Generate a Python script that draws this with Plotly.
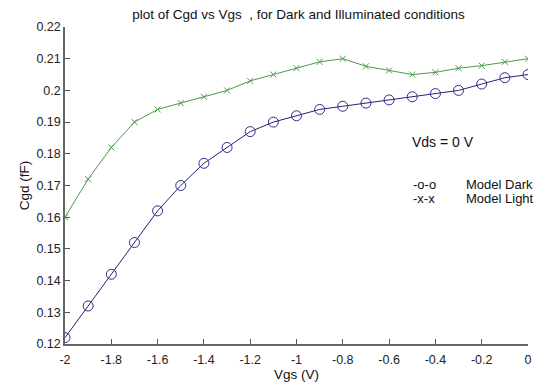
import plotly.graph_objects as go

vgs = [-2.0, -1.9, -1.8, -1.7, -1.6, -1.5, -1.4, -1.3, -1.2, -1.1, -1.0,
       -0.9, -0.8, -0.7, -0.6, -0.5, -0.4, -0.3, -0.2, -0.1, 0.0]
cgd_dark = [0.122, 0.132, 0.142, 0.152, 0.162, 0.170, 0.177, 0.182, 0.187, 0.190, 0.192,
            0.194, 0.195, 0.196, 0.197, 0.198, 0.199, 0.200, 0.202, 0.204, 0.205]
cgd_light = [0.160, 0.172, 0.182, 0.190, 0.194, 0.196, 0.198, 0.200, 0.203, 0.205, 0.207,
             0.209, 0.210, 0.2076, 0.2063, 0.205, 0.2057, 0.207, 0.2078, 0.209, 0.210]

xticks = [-2, -1.8, -1.6, -1.4, -1.2, -1, -0.8, -0.6, -0.4, -0.2, 0]
xtick_text = ["-2", "-1.8", "-1.6", "-1.4", "-1.2", "-1", "-0.8", "-0.6", "-0.4", "-0.2", "0"]
yticks = [0.12, 0.13, 0.14, 0.15, 0.16, 0.17, 0.18, 0.19, 0.2, 0.21, 0.22]
ytick_text = ["0.12", "0.13", "0.14", "0.15", "0.16", "0.17", "0.18", "0.19", "0.2", "0.21", "0.22"]

font = "Liberation Sans, Arial, sans-serif"

fig = go.Figure()
fig.add_trace(go.Scatter(
    x=vgs, y=cgd_light, mode="lines+markers",
    line=dict(color="#4c9a4c", width=1),
    marker=dict(symbol="x-thin-open", size=6, line=dict(color="#2a6e2a", width=1)),
    showlegend=False))
fig.add_trace(go.Scatter(
    x=vgs, y=cgd_dark, mode="lines+markers",
    line=dict(color="#22227a", width=1),
    marker=dict(symbol="circle-open", size=10, color="#2e2e8a", line=dict(width=1)),
    showlegend=False))

fig.add_annotation(x=-0.51, y=0.1838, text="Vds = 0 V", showarrow=False,
                   xanchor="left", yanchor="middle", font=dict(size=14, color="#111", family=font))
fig.add_annotation(x=-0.505, y=0.1703, text="-o-o", showarrow=False,
                   xanchor="left", yanchor="middle", font=dict(size=13, color="#111", family=font))
fig.add_annotation(x=-0.505, y=0.1659, text="-x-x", showarrow=False,
                   xanchor="left", yanchor="middle", font=dict(size=13, color="#111", family=font))
fig.add_annotation(x=-0.277, y=0.1703, text="Model Dark", showarrow=False,
                   xanchor="left", yanchor="middle", font=dict(size=13, color="#111", family=font))
fig.add_annotation(x=-0.277, y=0.1659, text="Model Light", showarrow=False,
                   xanchor="left", yanchor="middle", font=dict(size=13, color="#111", family=font))

fig.update_layout(
    width=541, height=387,
    margin=dict(l=65, r=9, t=27, b=39),
    paper_bgcolor="white", plot_bgcolor="white",
    font=dict(family=font, size=12, color="#111"),
    title=dict(text="plot of Cgd vs Vgs  , for Dark and Illuminated conditions",
               x=298.5 / 541, xanchor="center", y=1 - 14 / 387, yanchor="middle",
               font=dict(size=13.5, color="#111")),
    xaxis=dict(range=[-2, 0], tickmode="array", tickvals=xticks, ticktext=xtick_text,
               ticks="inside", ticklen=5, tickcolor="#555", showline=True, linecolor="#666",
               linewidth=1.5, showgrid=False, zeroline=False, mirror=False,
               ticklabelstandoff=3,
               title=dict(text="Vgs (V)", standoff=2, font=dict(size=13.5)),
               tickfont=dict(size=12.5, color="#222")),
    yaxis=dict(range=[0.12, 0.22], tickmode="array", tickvals=yticks, ticktext=ytick_text,
               ticks="inside", ticklen=5, tickcolor="#555", showline=True, linecolor="#666",
               linewidth=1.5, showgrid=False, zeroline=False, mirror=False,
               title=dict(text="Cgd (fF)", standoff=4, font=dict(size=13.5)),
               tickfont=dict(size=12.5, color="#222")),
)

fig.write_html("out.html")
